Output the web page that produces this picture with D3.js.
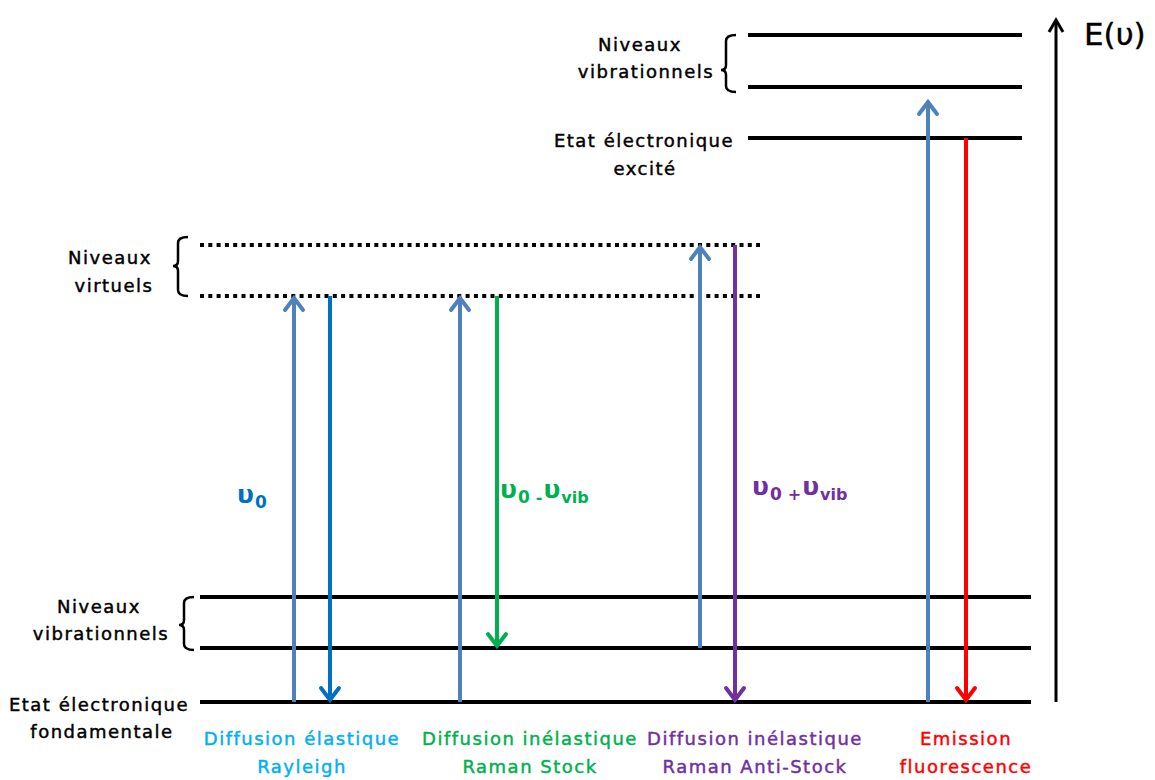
<!DOCTYPE html>
<html><head><meta charset="utf-8">
<script src="https://cdn.jsdelivr.net/npm/d3@7"></script>
<style>
html,body{margin:0;padding:0;background:#fff;}
text{font-family:"Comic Sans MS","DejaVu Sans",sans-serif;}
</style></head>
<body><div id="chart"></div>
<script>
// ---- data ----
// energy levels (arbitrary energy units, ground state = 0)
const levelNames = ["ground","vibA","vibB","virtLow","virtHigh","excited","excVibA","excVibB"];
const levelEnergy = [0, 54, 105, 406, 457, 564, 615, 667];
const levelKind   = ["solid","solid","solid","dotted","dotted","solid","solid","solid"];
const levelGroup  = ["low","low","low","virtual","virtual","high","high","high"];

// transitions: from level -> to level (energy units), process
const transProcess = ["Rayleigh","Rayleigh","Stokes","Stokes","AntiStokes","AntiStokes","Fluo","Fluo"];
const transFrom    = [0, 406, 0, 406, 54, 457, 0, 564];
const transTo      = [406, 0, 406, 54, 457, 0, 602, 0];
const transX       = [294, 330, 460, 497, 700, 735, 928, 966];
const transColor   = ["#4F81BD","#0070C0","#4F81BD","#00B050","#4F81BD","#7030A0","#4F81BD","#FF0000"];

// frequency labels
const freqMain = ["υ","υ","υ"];
const freqSub0 = ["0","0","0"];
const freqOp   = ["", "-", "+"];
const freqVib  = ["", "vib", "vib"];
const freqColor= ["#0070C0","#00B050","#7030A0"];

// bottom process labels
const procLine1 = ["Diffusion élastique","Diffusion inélastique","Diffusion inélastique","Emission"];
const procLine2 = ["Rayleigh","Raman Stock","Raman Anti-Stock","fluorescence"];
const procColor = ["#00B0F0","#00B050","#7030A0","#FF0000"];

// ---- layout ----
const W = 1155, H = 780;
const svg = d3.select("#chart").append("svg").attr("width", W).attr("height", H);
const y = d3.scaleLinear().domain([0, 700]).range([702, 2]);
const x = d3.scaleLinear().domain([0, W]).range([0, W]);

// level line extents by group
const extent = {low:[200,1031], virtual:[200,760], high:[748,1022]};
levelEnergy.forEach((e,i)=>{
  const [x0,x1] = extent[levelGroup[i]];
  const l = svg.append("line")
    .attr("x1", x(x0)).attr("x2", x(x1))
    .attr("y1", y(e)).attr("y2", y(e))
    .attr("stroke", "#000").attr("stroke-width", 4);
  if (levelKind[i] === "dotted") l.attr("stroke-dasharray", "4,4.3");
});

// energy axis
const axTop = 682;
svg.append("line").attr("x1", 1056).attr("x2", 1056)
  .attr("y1", y(0)).attr("y2", y(axTop)+1)
  .attr("stroke","#000").attr("stroke-width",3);
svg.append("path")
  .attr("d", `M${1049},${y(axTop)+12} L1056,${y(axTop)} L${1063},${y(axTop)+12}`)
  .attr("fill","none").attr("stroke","#000").attr("stroke-width",3);
svg.append("text").attr("x",1084).attr("y",45)
  .attr("font-size",31).attr("fill","#000").attr("stroke","#000").attr("stroke-width",0.4)
  .text("E(υ)");

// transitions
transFrom.forEach((f,i)=>{
  const t = transTo[i];
  const xx = x(transX[i]);
  const y0 = y(f), y1 = y(t);
  const up = t > f;
  const c = transColor[i];
  svg.append("line").attr("x1",xx).attr("x2",xx)
    .attr("y1",y0).attr("y2", y1 + (up?2:-2))
    .attr("stroke",c).attr("stroke-width",4);
  const d = up ? 1 : -1;
  svg.append("path")
    .attr("d", `M${xx-9},${y1+d*14} L${xx},${y1+d*2} L${xx+9},${y1+d*14}`)
    .attr("fill","none").attr("stroke",c).attr("stroke-width",4)
    .attr("stroke-linecap","round").attr("stroke-linejoin","miter");
});

// frequency labels
const freqPos = [[237,503],[500,498],[752,495]];
freqMain.forEach((m,i)=>{
  const t = svg.append("text").attr("x",freqPos[i][0]).attr("y",freqPos[i][1])
    .attr("fill",freqColor[i]).attr("font-size",25).attr("font-weight","bold");
  t.append("tspan").text(m);
  t.append("tspan").attr("font-size",17).attr("dy",5).attr("dx",1).text(freqSub0[i]);
  if (freqOp[i]) {
    t.append("tspan").attr("font-size",16).attr("dx",6).text(freqOp[i]);
    t.append("tspan").attr("font-size",25).attr("dy",-5).attr("dx",1).text(m);
    t.append("tspan").attr("font-size",16).attr("dy",5).attr("dx",1).text(freqVib[i]);
  }
});

// braces
function brace(xr, yTop, yBot, yMid){
  const xl = xr - 8, xt = xr - 13;
  const p = `M${xr+2},${yTop} Q${xl},${yTop} ${xl},${yTop+6} L${xl},${yMid-5} Q${xl},${yMid} ${xt},${yMid} Q${xl},${yMid} ${xl},${yMid+5} L${xl},${yBot-6} Q${xl},${yBot} ${xr+2},${yBot}`;
  svg.append("path").attr("d",p).attr("fill","none").attr("stroke","#000").attr("stroke-width",2.5);
}
brace(734, y(levelEnergy[7]), y(levelEnergy[6])+5, 70);
brace(186, y(levelEnergy[4])-8, y(levelEnergy[3]), 266);
brace(192, y(levelEnergy[2]), y(levelEnergy[1])+2, 625);

// level labels
const lblFS = 18, lblLS = 1.5;
function styl(sel, col){
  return sel.attr("font-size",lblFS).attr("letter-spacing",lblLS)
    .attr("fill",col).attr("stroke",col).attr("stroke-width",0.45);
}
function lbl(txt, xx, yy, anchor){
  styl(svg.append("text").attr("x",xx).attr("y",yy).attr("text-anchor",anchor||"middle"),"#000").text(txt);
}
lbl("Niveaux", 640, 51);
lbl("vibrationnels", 646, 78);
lbl("Etat électronique", 644, 147);
lbl("excité", 645, 175);
lbl("Niveaux", 110, 264);
lbl("virtuels", 114, 292);
lbl("Niveaux", 99, 613);
lbl("vibrationnels", 101, 640);
lbl("Etat électronique", 99, 711);
lbl("fondamentale", 102, 738);

// process labels
const procX = [302, 530, 755, 966];
procLine1.forEach((t,i)=>{
  styl(svg.append("text").attr("x",procX[i]).attr("y",745).attr("text-anchor","middle"),procColor[i]).text(t);
  styl(svg.append("text").attr("x",procX[i]).attr("y",773).attr("text-anchor","middle"),procColor[i]).text(procLine2[i]);
});
</script></body></html>
